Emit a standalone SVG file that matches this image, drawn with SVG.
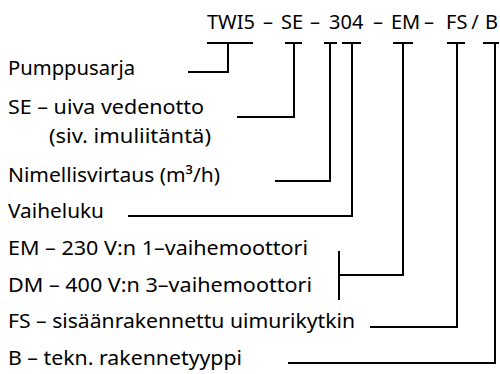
<svg xmlns="http://www.w3.org/2000/svg" width="500" height="374" viewBox="0 0 500 374">
<style>
text{font-family:"Noto Sans","Open Sans","Liberation Sans",sans-serif;font-size:20px;fill:#000}
.m{text-anchor:middle}
.c{fill:none;stroke:#000;stroke-width:2}
</style>
<rect width="500" height="374" fill="#fff"/>
<g id="code">
<text x="207" y="29">TWI5</text><text class="m" x="268" y="29">–</text>
<text x="281" y="29">SE</text><text class="m" x="315" y="29">–</text>
<text x="329" y="29">304</text><text class="m" x="378" y="29">–</text>
<text x="391" y="29">EM</text><text class="m" x="429" y="29">–</text>
<text x="446" y="29">FS</text><text class="m" x="475" y="29">/</text>
<text x="485" y="29">B</text>
</g>
<g id="n1"><text x="8" y="75" textLength="127" lengthAdjust="spacingAndGlyphs">Pumppusarja</text></g>
<g id="n2"><text x="8" y="114" textLength="196" lengthAdjust="spacingAndGlyphs">SE – uiva vedenotto</text><text x="49" y="143" textLength="162" lengthAdjust="spacingAndGlyphs">(siv. imuliitäntä)</text></g>
<g id="n3"><text x="8" y="182" textLength="212" lengthAdjust="spacingAndGlyphs">Nimellisvirtaus (m³/h)</text></g>
<g id="n4"><text x="8" y="218" textLength="96" lengthAdjust="spacingAndGlyphs">Vaiheluku</text></g>
<g id="n5"><text x="8" y="255" textLength="300" lengthAdjust="spacingAndGlyphs">EM – 230 V:n 1–vaihemoottori</text></g>
<g id="n6"><text x="8" y="292" textLength="304" lengthAdjust="spacingAndGlyphs">DM – 400 V:n 3–vaihemoottori</text></g>
<g id="n7"><text x="8" y="328" textLength="347" lengthAdjust="spacingAndGlyphs">FS – sisäänrakennettu uimurikytkin</text></g>
<g id="n8"><text x="8" y="365" textLength="234" lengthAdjust="spacingAndGlyphs">B – tekn. rakennetyyppi</text></g>
<g id="connectors">
<path class="c" d="M207 43H253M228 43V72H188"/>
<path class="c" d="M285 43H302M294 43V117H237"/>
<path class="c" d="M324 43H337M330 43V181H275"/>
<path class="c" d="M342 43H361M352 43V216H128"/>
<path class="c" d="M393 43H413M403 43V275H339M339 251V300"/>
<path class="c" d="M447 43H465M457 43V327H370"/>
<path class="c" d="M483 43H499M495 43V363H288"/>
</g>
</svg>
